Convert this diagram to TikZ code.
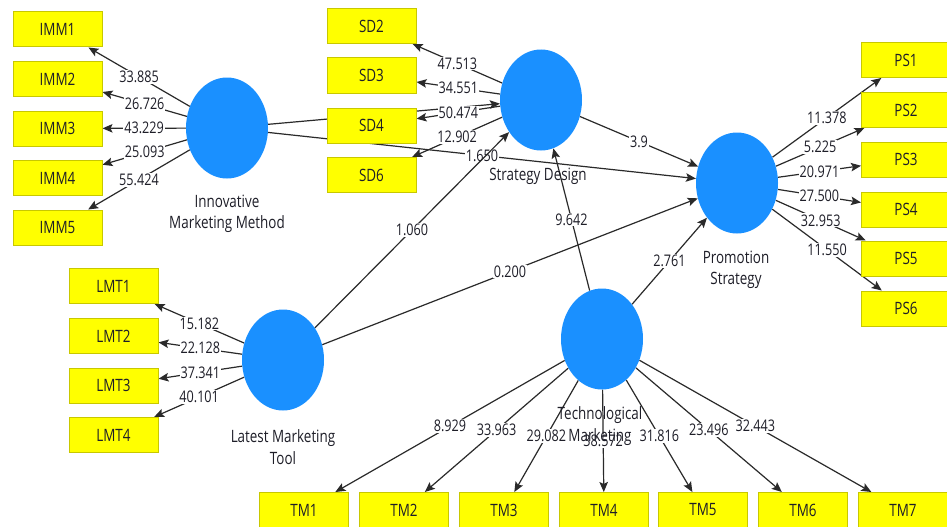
\documentclass[tikz,border=0pt]{standalone}
\usepackage{fontspec}
\setmainfont[FakeStretch=0.79]{Open Sans}
\usetikzlibrary{arrows.meta,shapes.geometric}
\pgfdeclarelayer{paper}
\pgfdeclarelayer{bg}
\pgfsetlayers{paper,bg,main}
\definecolor{boxyellow}{HTML}{FFFF00}
\definecolor{boxborder}{HTML}{C8C800}
\definecolor{lvblue}{HTML}{1A90FF}
\definecolor{edgecol}{HTML}{2A2A2A}
\definecolor{txtcol}{HTML}{1E1E28}
\begin{document}
\begin{tikzpicture}[x=1pt,y=-1pt,
 ind/.style={draw=boxborder, fill=boxyellow, line width=1pt, minimum width=89pt, minimum height=35pt, inner sep=0pt, font=\fontsize{17}{18}\selectfont, text=txtcol},
 lv/.style={fill=lvblue, ellipse, minimum width=82pt, minimum height=101pt, inner sep=0pt},
 lvname/.style={align=center, font=\fontsize{17}{21.5}\selectfont, text=txtcol},
 arr/.style={draw=edgecol, line width=1.2pt, -{Stealth[length=10pt,width=8.5pt,inset=2pt]}},
 lbl/.style={fill=white, inner sep=1pt, font=\fontsize{16}{16}\selectfont, text=txtcol}
]
\begin{pgfonlayer}{paper}
\fill[white] (0,0) rectangle (947,527);
\end{pgfonlayer}
\useasboundingbox (0,0) rectangle (947,527);

% latent variables
\node[lv] (imm) at (227,128) {};
\node[lv] (sd) at (541,100) {};
\node[lv] (ps) at (737,183) {};
\node[lv] (lmt) at (283,360) {};
\node[lv] (tm) at (602,339) {};

\node[lvname] (immname) at (227,214) {Innovative\\Marketing Method};
\node[lvname] (sdname) at (538,176) {Strategy Design};
\node[lvname] (psname) at (736,270) {Promotion\\Strategy};
\node[lvname] (lmtname) at (283,447) {Latest Marketing\\Tool};
\node[lvname] (tmname) at (600,426) {Technological\\Marketing};

% indicators
\node[ind] (imm1) at (57.5,29.5) {IMM1};
\node[ind] (imm2) at (57.5,79) {IMM2};
\node[ind] (imm3) at (57.5,128.5) {IMM3};
\node[ind] (imm4) at (57.5,178) {IMM4};
\node[ind] (imm5) at (57.5,227.5) {IMM5};

\node[ind] (sd2) at (371.5,26) {SD2};
\node[ind] (sd3) at (371.5,75.5) {SD3};
\node[ind] (sd4) at (371.5,125.5) {SD4};
\node[ind] (sd6) at (371.5,175) {SD6};

\node[ind] (ps1) at (906,60) {PS1};
\node[ind] (ps2) at (906,110) {PS2};
\node[ind] (ps3) at (906,159.5) {PS3};
\node[ind] (ps4) at (906,209.5) {PS4};
\node[ind] (ps5) at (906,258.5) {PS5};
\node[ind] (ps6) at (906,308.5) {PS6};

\node[ind] (lmt1) at (113.5,286) {LMT1};
\node[ind] (lmt2) at (113.5,336) {LMT2};
\node[ind] (lmt3) at (113.5,385.5) {LMT3};
\node[ind] (lmt4) at (113.5,435) {LMT4};

\node[ind] (tm1) at (304,510) {TM1};
\node[ind] (tm2) at (404,510) {TM2};
\node[ind] (tm3) at (504,510) {TM3};
\node[ind] (tm4) at (604,510) {TM4};
\node[ind] (tm5) at (703,510) {TM5};
\node[ind] (tm6) at (803,510) {TM6};
\node[ind] (tm7) at (903,510) {TM7};

\begin{pgfonlayer}{bg}
% structural paths
\draw[arr] (imm) -- (sd);
\draw[arr] (imm) -- node[lbl]{1.650} (ps);
\draw[arr] (sd) -- node[lbl]{3.9} (ps);
\draw[arr] (lmt) -- node[lbl]{1.060} (sd);
\draw[arr] (lmt) -- node[lbl]{0.200} (ps);
\draw[arr] (tm) -- node[lbl]{9.642} (sd);
\draw[arr] (tm) -- node[lbl]{2.761} (ps);
% loadings
\draw[arr] (imm) -- node[lbl]{33.885} (imm1);
\draw[arr] (imm) -- node[lbl]{26.726} (imm2);
\draw[arr] (imm) -- node[lbl]{43.229} (imm3);
\draw[arr] (imm) -- node[lbl]{25.093} (imm4);
\draw[arr] (imm) -- node[lbl]{55.424} (imm5);
\draw[arr] (sd) -- node[lbl]{47.513} (sd2);
\draw[arr] (sd) -- node[lbl]{34.551} (sd3);
\draw[arr] (sd) -- node[lbl]{50.474} (sd4);
\draw[arr] (sd) -- node[lbl]{12.902} (sd6);
\draw[arr] (ps) -- node[lbl]{11.378} (ps1);
\draw[arr] (ps) -- node[lbl]{5.225} (ps2);
\draw[arr] (ps) -- node[lbl]{20.971} (ps3);
\draw[arr] (ps) -- node[lbl]{27.500} (ps4);
\draw[arr] (ps) -- node[lbl]{32.953} (ps5);
\draw[arr] (ps) -- node[lbl]{11.550} (ps6);
\draw[arr] (lmt) -- node[lbl]{15.182} (lmt1);
\draw[arr] (lmt) -- node[lbl]{22.128} (lmt2);
\draw[arr] (lmt) -- node[lbl]{37.341} (lmt3);
\draw[arr] (lmt) -- node[lbl]{40.101} (lmt4);
\draw[arr] (tm) -- node[lbl]{8.929} (tm1);
\draw[arr] (tm) -- node[lbl]{33.963} (tm2);
\draw[arr] (tm) -- node[lbl]{29.082} (tm3);
\draw[arr] (tm) -- node[lbl]{38.572} (tm4);
\draw[arr] (tm) -- node[lbl]{31.816} (tm5);
\draw[arr] (tm) -- node[lbl]{23.496} (tm6);
\draw[arr] (tm) -- node[lbl]{32.443} (tm7);
\end{pgfonlayer}
\end{tikzpicture}
\end{document}
